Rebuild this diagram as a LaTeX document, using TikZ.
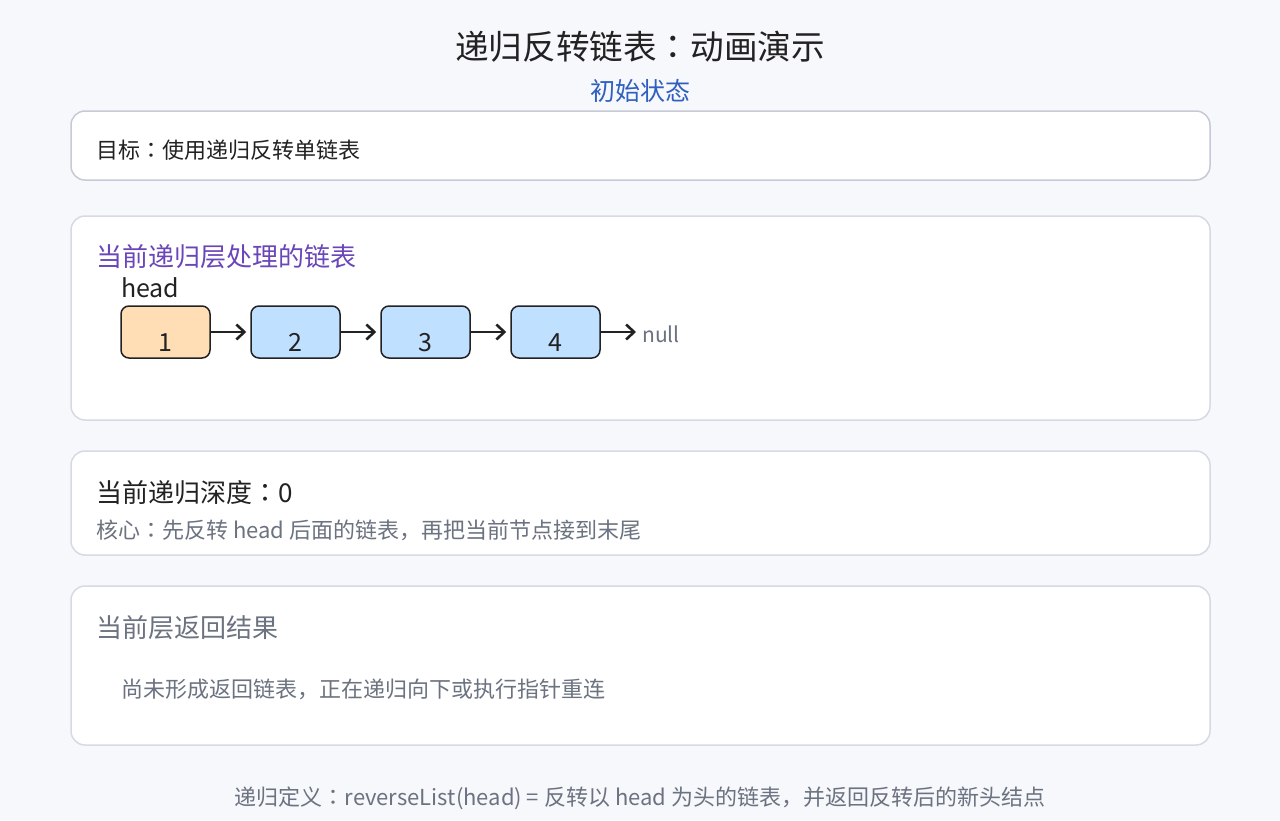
\documentclass[tikz,border=0pt]{standalone}
\usepackage{fontspec}
\setmainfont{Noto Sans CJK SC}
\newfontfamily\jpf{Noto Sans CJK JP}
\newcommand{\cln}{{\jpf ：}}
\usetikzlibrary{arrows.meta}
\definecolor{bg}{HTML}{F7F8FC}
\definecolor{ink}{HTML}{222222}
\definecolor{subblue}{HTML}{2F5FBF}
\definecolor{purp}{HTML}{6A46B8}
\definecolor{muted}{HTML}{6B7280}
\definecolor{edgeA}{HTML}{C6C9D6}
\definecolor{edgeB}{HTML}{D6DAE5}
\definecolor{peach}{HTML}{FFDDB5}
\definecolor{sky}{HTML}{BFE0FF}
\newcommand{\fsz}[1]{\fontsize{#1pt}{#1pt}\selectfont}
\tikzset{
  panel/.style={draw=edgeB, fill=white, rounded corners=14pt, line width=1.5pt, minimum width=1139pt, inner sep=0pt},
  txt/.style={anchor=base west, inner sep=0pt},
  listnode/.style={draw=ink, line width=1.5pt, rounded corners=8pt, minimum width=89pt, minimum height=52pt, inner sep=0pt, text height=38pt, text depth=0pt, font=\fsz{25}, text=ink},
  link/.style={draw=ink, line width=2.6pt, -{Straight Barb[length=8pt,width=15pt,line width=2.6pt]}, shorten >=4pt}
}
\begin{document}
\begin{tikzpicture}[x=1pt,y=-1pt]
\path[fill=bg] (0,0) rectangle (1280,820);
% title
\node[anchor=base, inner sep=0pt, font=\fsz{33.6}, text=ink] (title) at (640,59.5) {递归反转链表\cln 动画演示};
\node[anchor=base, inner sep=0pt, font=\fsz{25}, text=subblue] (sub) at (640,100.5) {初始状态};
% panel 1
\node[panel, draw=edgeA, minimum height=69pt] (goal) at (640.5,145.5) {};
\node[txt, font=\fsz{22}, text=ink] (goaltxt) at (96,158) {目标\cln 使用递归反转单链表};
% panel 2
\node[panel, minimum height=204pt] (listpanel) at (640.5,318) {};
\node[txt, font=\fsz{26}, text=purp] (listtitle) at (96,266) {当前递归层处理的链表};
\node[txt, font=\fsz{25}, text=ink] (head) at (121,297) {head};
\node[listnode, fill=peach] (n1) at (165.5,332) {1};
\node[listnode, fill=sky] (n2) at (295.5,332) {2};
\node[listnode, fill=sky] (n3) at (425.5,332) {3};
\node[listnode, fill=sky] (n4) at (555.5,332) {4};
\coordinate (nullpt) at (640,332);
\node[txt, font=\fsz{21}, text=muted] (null) at (642,342) {null};
\draw[link] (n1.east) -- (n2.west);
\draw[link] (n2.east) -- (n3.west);
\draw[link] (n3.east) -- (n4.west);
\draw[link] (n4.east) -- (nullpt);
% panel 3
\node[panel, minimum height=104pt] (depthpanel) at (640.5,503) {};
\node[txt, font=\fsz{26}, text=ink] (depth) at (96,502) {当前递归深度\cln 0};
\node[txt, font=\fsz{22}, text=muted] (core) at (96,538) {核心\cln 先反转 head 后面的链表，再把当前节点接到末尾};
% panel 4
\node[panel, minimum height=159pt] (resultpanel) at (640.5,665.5) {};
\node[txt, font=\fsz{26}, text=muted] (restitle) at (96,637) {当前层返回结果};
\node[txt, font=\fsz{22}, text=muted] (restxt) at (121,697) {尚未形成返回链表，正在递归向下或执行指针重连};
% footer
\node[anchor=base, inner sep=0pt, font=\fsz{22}, text=muted] (footer) at (640,805) {递归定义\cln reverseList(head) = 反转以 head 为头的链表，并返回反转后的新头结点};
\end{tikzpicture}
\end{document}
